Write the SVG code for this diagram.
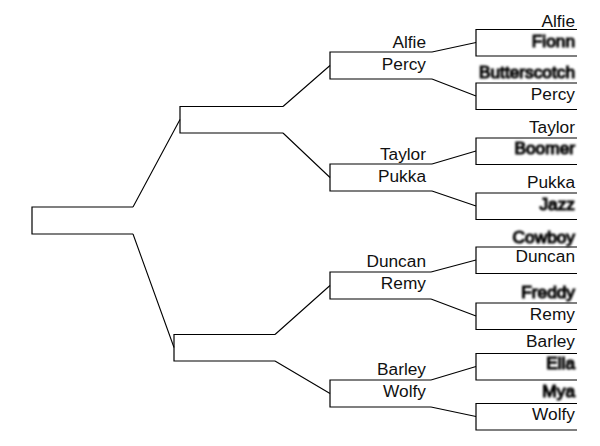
<svg xmlns="http://www.w3.org/2000/svg" width="600" height="446" viewBox="0 0 600 446">
<defs>
<filter id="blur" x="-20%" y="-50%" width="140%" height="200%"><feGaussianBlur stdDeviation="1.1"/></filter>
</defs>
<style>
.box{fill:none;stroke:#000;stroke-width:1.2}
.con{fill:none;stroke:#000;stroke-width:1.1}
text{font-family:"Liberation Sans",Arial,sans-serif;font-size:17.3px;fill:#111;text-anchor:end}
.b{filter:url(#blur);fill:#000;stroke:#000;stroke-width:1.2}
</style>
<rect width="600" height="446" fill="#fff"/>
<g id="connectors">
<path class="con" d="M133,207 L180,119.5 M133,234 L174,347.5"/>
<path class="con" d="M283,106.5 L330,65.5 M283,133 L330,177.5 M275,334.5 L330,285.5 M275,361 L330,393.5"/>
<path class="con" d="M432,52 L476,42.5 M432,79 L476,96 M432,164 L476,151 M432,191 L476,206 M431,272 L476,260 M431,299 L476,316 M431,380 L476,366.5 M431,407 L476,416.5"/>
</g>
<g id="final"><path class="box" d="M133,207 H32 V234 H133"/></g>
<g id="semi1"><path class="box" d="M283,106.5 H180 V133 H283"/></g>
<g id="semi2"><path class="box" d="M275,334.5 H174 V361 H275"/></g>
<g id="qf1"><path class="box" d="M432,52 H330 V79 H432"/><text x="426" y="48">Alfie</text><text x="426" y="70">Percy</text></g>
<g id="qf2"><path class="box" d="M432,164 H330 V191 H432"/><text x="426" y="159.5">Taylor</text><text x="426" y="181.5">Pukka</text></g>
<g id="qf3"><path class="box" d="M431,272 H330 V299 H431"/><text x="426" y="267">Duncan</text><text x="426" y="288.5">Remy</text></g>
<g id="qf4"><path class="box" d="M431,380 H330 V407 H431"/><text x="426" y="374.5">Barley</text><text x="426" y="397">Wolfy</text></g>
<g id="r1"><path class="box" d="M577,29.5 H476 V56 H577"/><text x="575" y="26.5">Alfie</text><text class="b" x="575" y="47">Fionn</text></g>
<g id="r2"><path class="box" d="M577,83 H476 V109.5 H577"/><text class="b" x="575" y="78">Butterscotch</text><text x="575" y="100">Percy</text></g>
<g id="r3"><path class="box" d="M577,138 H476 V164.5 H577"/><text x="575" y="133">Taylor</text><text class="b" x="575" y="154">Boomer</text></g>
<g id="r4"><path class="box" d="M577,193 H476 V219.5 H577"/><text x="575" y="188">Pukka</text><text class="b" x="575" y="210">Jazz</text></g>
<g id="r5"><path class="box" d="M577,247 H476 V273.5 H577"/><text class="b" x="575" y="242.5">Cowboy</text><text x="575" y="262">Duncan</text></g>
<g id="r6"><path class="box" d="M577,303 H476 V329.5 H577"/><text class="b" x="575" y="297.5">Freddy</text><text x="575" y="320">Remy</text></g>
<g id="r7"><path class="box" d="M577,353.5 H476 V380 H577"/><text x="575" y="347">Barley</text><text class="b" x="575" y="369">Ella</text></g>
<g id="r8"><path class="box" d="M577,403.5 H476 V430 H577"/><text class="b" x="575" y="397">Mya</text><text x="575" y="420">Wolfy</text></g>
</svg>
